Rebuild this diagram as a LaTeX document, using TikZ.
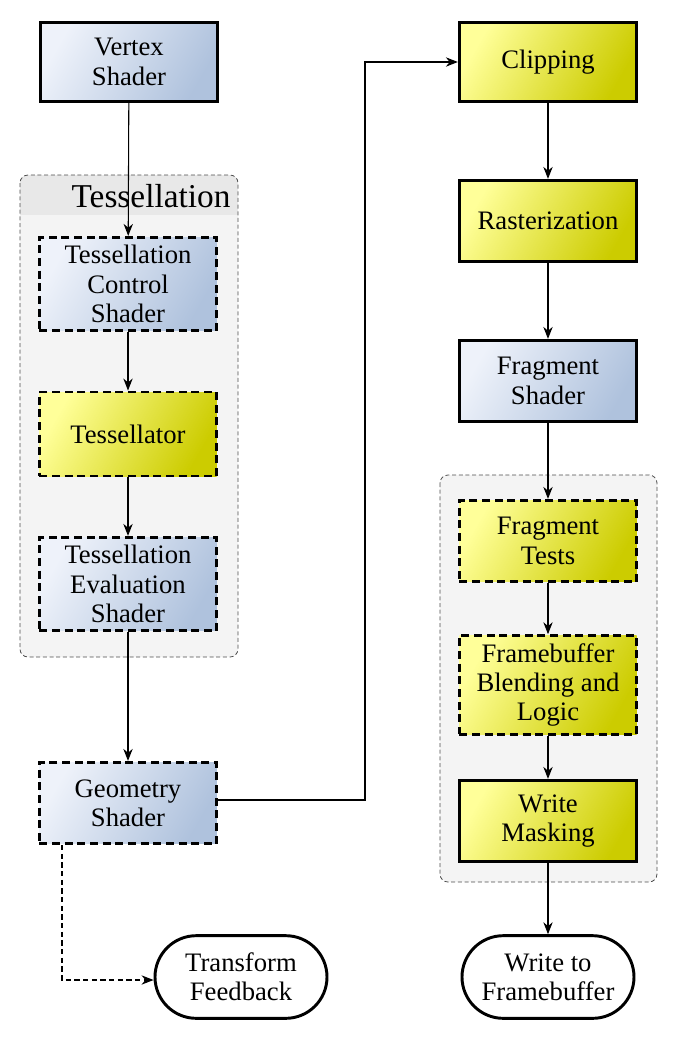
\documentclass[tikz,border=0pt]{standalone}
\usepackage{fontspec}
\setmainfont{Liberation Serif}
\usetikzlibrary{arrows.meta,shapes.misc}
\definecolor{bl1}{HTML}{EEF2FA}\definecolor{bl2}{HTML}{AFC2DD}
\definecolor{ye1}{HTML}{FFFF99}\definecolor{ye2}{HTML}{CCCC00}
\definecolor{grp}{HTML}{F4F4F4}\definecolor{grh}{HTML}{E8E8E8}
\begin{document}
\begin{tikzpicture}[x=0.75pt,y=-0.75pt,
  box/.style={draw=black,line width=2.2pt,minimum width=133pt,align=center,font=\fontsize{20}{22}\selectfont,inner sep=1pt},
  dbox/.style={box,dash pattern=on 6pt off 3.5pt},
  blue/.style={left color=bl1,right color=bl2,shading angle=60},
  yel/.style={left color=ye1,right color=ye2,shading angle=60},
  pill/.style={draw=black,line width=2.2pt,rounded rectangle,minimum width=131pt,minimum height=62pt,align=center,font=\fontsize{20}{22}\selectfont,fill=white,inner sep=1pt},
  grpst/.style={draw=black!70,dash pattern=on 3pt off 2pt,line width=0.6pt,rounded corners=6pt},
  arr/.style={-{Stealth[length=9pt,width=7pt]},line width=0.8pt}]
\useasboundingbox (0,0) rectangle (676,1051);
% groups
\fill[grp,rounded corners=6pt] (20,175) rectangle (238,657);
\begin{scope}
\clip[rounded corners=6pt] (20,175) rectangle (238,657);
\fill[grh] (20,175) rectangle (238,215);
\end{scope}
\draw[grpst] (20,175) rectangle (238,657);
\node[font=\fontsize{25}{28}\selectfont,anchor=east,inner sep=1pt] (th) at (232,196) {Tessellation};
\fill[grp,rounded corners=6pt] (440,475) rectangle (657,882);
\draw[grpst] (440,475) rectangle (657,882);
% nodes
\node[box,blue,minimum height=59pt] (vs) at (129,62) {Vertex\\Shader};
\node[dbox,blue,minimum height=70pt] (tcs) at (128,284) {Tessellation\\Control\\Shader};
\node[dbox,yel,minimum height=63pt] (tes) at (128,434) {Tessellator};
\node[dbox,blue,minimum height=70pt] (tev) at (128,584) {Tessellation\\Evaluation\\Shader};
\node[dbox,blue,minimum height=61pt] (gs) at (128,803) {Geometry\\Shader};
\node[pill] (tf) at (241,977) {Transform\\Feedback};
\node[box,yel,minimum height=59pt] (cl) at (548,62) {Clipping};
\node[box,yel,minimum height=61pt] (ra) at (548,221) {Rasterization};
\node[box,blue,minimum height=61pt] (fs) at (548,381) {Fragment\\Shader};
\node[dbox,yel,minimum height=61pt] (ft) at (548,541) {Fragment\\Tests};
\node[dbox,yel,minimum height=74pt] (fb) at (548,685) {Framebuffer\\Blending and\\Logic};
\node[box,yel,minimum height=61pt] (wm) at (548,821) {Write\\Masking};
\node[pill] (wf) at (548,977) {Write to\\Framebuffer};
\coordinate (c1) at (365,800);
\coordinate (c2) at (365,62);
\coordinate (d1) at (62,980);
% arrows
\draw[arr] (vs) -- (tcs);
\draw[arr] (tcs) -- (tes);
\draw[arr] (tes) -- (tev);
\draw[arr] (tev) -- (gs);
\draw[arr] (gs.east |- c1) -- (c1) -- (c2) -- (cl.west);
\draw[arr,dash pattern=on 4pt off 2.5pt] (gs.south -| d1) -- (d1) -- (tf.west |- d1);
\draw[arr] (cl) -- (ra);
\draw[arr] (ra) -- (fs);
\draw[arr] (fs) -- (ft);
\draw[arr] (ft) -- (fb);
\draw[arr] (fb) -- (wm);
\draw[arr] (wm) -- (wf);
\end{tikzpicture}
\end{document}
